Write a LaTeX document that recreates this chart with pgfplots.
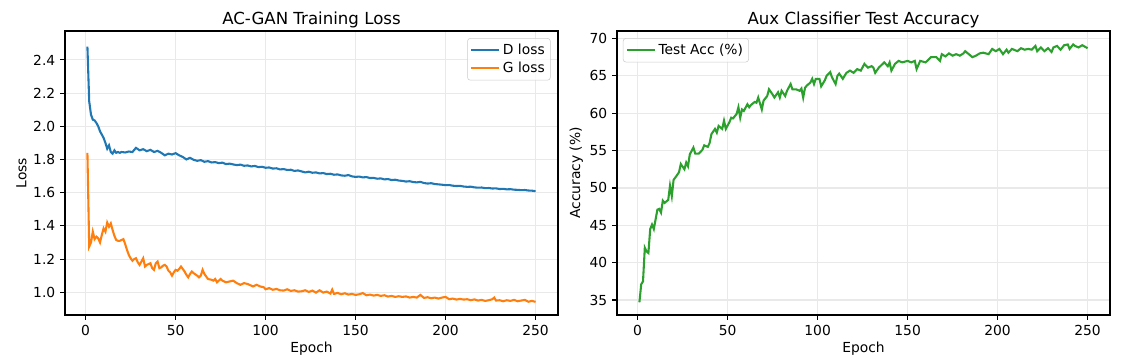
\documentclass[border=0pt]{standalone}
\usepackage{pgfplots}
\pgfplotsset{compat=1.18}
\usepackage{fontspec}
\setmainfont{DejaVu Sans}
\definecolor{tabblue}{HTML}{1F77B4}
\definecolor{taborange}{HTML}{FF7F0E}
\definecolor{tabgreen}{HTML}{2CA02C}
\definecolor{gridc}{HTML}{E9E9E9}
\pgfplotsset{
  mystyle/.style={
    scale only axis, width=354.96bp, height=204.48bp,
    axis line style={line width=0.8bp},
    tick pos=left, tick align=outside,
    major tick length=3.5bp,
    every tick/.style={black, line width=0.8bp},
    grid=major, major grid style={gridc, line width=0.8bp},
    xmin=-11.45, xmax=262.45,
    xtick={0,50,100,150,200,250},
    tick label style={font=\fontsize{10}{12}\selectfont},
    label style={font=\fontsize{10}{12}\selectfont},
    title style={font=\fontsize{12}{14}\selectfont, at={(0.5,1)}, anchor=south, yshift=-7.5bp},
    /pgf/number format/assume math mode=true,
    legend style={font=\fontsize{10}{12}\selectfont, draw=gray!40, rounded corners=2bp, fill=white, fill opacity=0.8, text opacity=1, inner sep=2bp, row sep=0bp},
    legend cell align=left,
    legend image code/.code={\draw[#1] (0bp,0bp) -- (20bp,0bp);},
    xlabel={Epoch},
    xlabel style={yshift=2bp},
  }
}
\begin{document}
\begin{tikzpicture}
\useasboundingbox (0,0) rectangle (819.36bp,262.08bp);
\begin{axis}[mystyle, at={(46.8bp,35.28bp)}, anchor=south west,
  ymin=0.863, ymax=2.574,
  ytick={1.0,1.2,1.4,1.6,1.8,2.0,2.2,2.4},
  yticklabel style={/pgf/number format/.cd, fixed, fixed zerofill, precision=1},
  ylabel={Loss}, ylabel style={yshift=-2bp},
  title={AC-GAN Training Loss},
  legend style={at={(0.985,0.975)}, anchor=north east},
]
\addplot[tabblue, line width=1.5bp] coordinates {
(1,2.48)(2,2.15)(3,2.07)(4,2.04)(5,2.035)(6,2.02)(7,2.00)(8,1.97)(9,1.95)(10,1.93)
(11,1.90)(12,1.865)(13,1.885)(14,1.845)(15,1.835)(16,1.855)(17,1.84)(18,1.845)(19,1.84)(20,1.845)
(22,1.842)(24,1.848)(26,1.845)(28,1.870)(30,1.855)(32,1.862)(34,1.850)(36,1.858)(38,1.845)(40,1.852)
(42,1.840)(44,1.825)(46,1.835)(48,1.830)(50,1.838)(52,1.825)(54,1.815)(56,1.800)(58,1.810)(60,1.798)
(62,1.792)(64,1.796)(66,1.786)(68,1.790)(70,1.782)(72,1.784)(74,1.778)(76,1.781)(78,1.772)(80,1.775)
(82,1.770)(84,1.766)(86,1.769)(88,1.762)(90,1.764)(92,1.758)(94,1.761)(96,1.754)(98,1.756)(100,1.750)
(102,1.752)(104,1.745)(106,1.747)(108,1.740)(110,1.742)(112,1.737)(114,1.738)(116,1.731)(118,1.734)(120,1.728)
(122,1.722)(124,1.726)(126,1.720)(128,1.722)(130,1.716)(132,1.718)(134,1.712)(136,1.714)(138,1.708)(140,1.710)
(142,1.704)(144,1.702)(146,1.706)(148,1.698)(150,1.695)(152,1.697)(154,1.692)(156,1.694)(158,1.688)(160,1.689)
(162,1.684)(164,1.686)(166,1.680)(168,1.682)(170,1.676)(172,1.678)(174,1.673)(176,1.671)(178,1.667)(180,1.669)
(182,1.664)(184,1.662)(186,1.665)(188,1.658)(190,1.655)(192,1.657)(194,1.652)(196,1.650)(198,1.648)(200,1.645)
(202,1.646)(204,1.642)(206,1.640)(208,1.641)(210,1.637)(212,1.635)(214,1.636)(216,1.632)(218,1.630)(220,1.631)
(222,1.627)(224,1.628)(226,1.625)(228,1.626)(230,1.622)(232,1.623)(234,1.620)(236,1.621)(238,1.618)(240,1.617)
(242,1.615)(244,1.616)(246,1.613)(248,1.612)(250,1.609)
};
\addlegendentry{D loss}
\addplot[taborange, line width=1.5bp] coordinates {
(1,1.84)(2,1.275)(3,1.30)(4,1.365)(5,1.32)(6,1.335)(7,1.325)(8,1.30)(9,1.345)(10,1.385)
(11,1.365)(12,1.42)(13,1.395)(14,1.415)(15,1.375)(16,1.34)(17,1.315)(18,1.31)(19,1.31)(20,1.315)
(21,1.32)(22,1.29)(23,1.255)(24,1.225)(25,1.205)(26,1.19)(27,1.20)(28,1.205)(29,1.18)(30,1.165)
(31,1.185)(32,1.205)(33,1.155)(34,1.165)(35,1.17)(36,1.175)(37,1.145)(38,1.135)(39,1.175)(40,1.185)
(41,1.145)(42,1.15)(43,1.16)(44,1.165)(45,1.155)(46,1.13)(47,1.12)(48,1.10)(49,1.12)(50,1.135)
(51,1.13)(52,1.14)(53,1.155)(54,1.14)(55,1.125)(56,1.105)(57,1.09)(58,1.11)(59,1.125)(60,1.115)
(62,1.10)(63,1.09)(64,1.10)(65,1.135)(66,1.11)(67,1.095)(68,1.08)(70,1.075)(71,1.07)(72,1.08)
(73,1.06)(75,1.08)(76,1.07)(78,1.06)(80,1.065)(82,1.07)(84,1.055)(86,1.045)(88,1.055)(90,1.05)
(92,1.04)(93,1.035)(95,1.045)(97,1.035)(99,1.03)(100,1.018)(102,1.025)(104,1.015)(106,1.02)(108,1.012)
(110,1.01)(112,1.018)(114,1.008)(116,1.012)(118,1.004)(120,1.006)(122,1.012)(124,1.002)(126,1.010)(128,0.998)
(130,1.012)(132,0.998)(134,1.004)(136,0.992)(137,1.016)(138,0.99)(140,0.996)(142,0.988)(144,0.994)(146,0.986)
(148,0.99)(150,0.984)(152,0.988)(154,0.995)(156,0.982)(158,0.986)(160,0.98)(162,0.984)(164,0.978)(166,0.982)
(168,0.974)(170,0.978)(172,0.972)(174,0.976)(176,0.972)(178,0.975)(180,0.968)(182,0.972)(184,0.968)(186,0.984)
(188,0.966)(190,0.97)(192,0.964)(194,0.968)(196,0.962)(198,0.968)(200,0.972)(202,0.958)(204,0.962)(206,0.956)
(208,0.96)(210,0.956)(212,0.958)(214,0.952)(216,0.957)(218,0.95)(220,0.954)(222,0.948)(224,0.952)(226,0.958)
(227,0.968)(228,0.95)(230,0.952)(232,0.946)(234,0.952)(236,0.948)(238,0.954)(240,0.946)(242,0.95)(244,0.954)
(246,0.943)(248,0.948)(250,0.942)
};
\addlegendentry{G loss}
\end{axis}
\begin{axis}[mystyle, at={(444.24bp,35.28bp)}, anchor=south west,
  ymin=33.0, ymax=71.0,
  ytick={35,40,45,50,55,60,65,70},
  ylabel={Accuracy (\%)}, ylabel style={yshift=-2bp},
  title={Aux Classifier Test Accuracy},
  legend style={at={(0.012,0.975)}, anchor=north west},
]
\addplot[tabgreen, line width=1.5bp] coordinates {
(1,34.7)(2,37.1)(3,37.5)(4,42.0)(5,41.5)(6,41.3)(7,44.5)(8,45.1)(9,44.5)(10,45.8)
(11,47.1)(12,47.2)(13,46.7)(14,48.3)(15,48.0)(16,48.2)(17,48.4)(18,50.3)(19,48.9)(20,51.1)
(21,51.4)(23,52.1)(24,53.2)(26,52.5)(27,53.4)(28,52.9)(29,54.5)(31,55.4)(32,54.6)(34,54.6)
(36,55.1)(37,55.7)(39,55.5)(40,56.0)(41,57.2)(43,57.9)(44,57.4)(45,58.3)(47,57.9)(48,59.0)
(49,57.9)(51,58.8)(52,59.4)(53,59.3)(55,59.9)(56,60.8)(57,59.4)(58,60.5)(59,60.3)(61,61.2)
(62,60.8)(63,61.1)(65,61.5)(66,61.4)(67,62.1)(69,60.5)(70,61.7)(72,62.3)(73,63.2)(75,62.5)
(76,62.1)(78,62.8)(79,62.1)(80,63.0)(82,62.3)(83,63.0)(85,63.9)(86,63.2)(88,63.2)(90,63.0)
(91,63.3)(92,62.1)(93,63.4)(94,63.7)(96,64.1)(97,64.6)(98,63.9)(99,64.6)(101,64.6)(102,63.6)
(104,64.4)(105,65.0)(107,65.5)(108,64.8)(110,63.9)(111,65.0)(112,65.3)(114,64.6)(116,65.4)(118,65.7)
(120,65.4)(122,65.9)(124,65.7)(126,66.6)(128,66.1)(130,66.3)(131,66.1)(132,65.4)(134,66.1)(137,66.8)
(139,66.3)(140,66.8)(141,65.7)(143,66.6)(145,67.0)(147,66.8)(150,67.0)(152,66.8)(154,67.0)(155,65.9)
(157,67.0)(160,66.8)(163,67.5)(166,67.5)(168,67.0)(169,67.9)(171,67.6)(173,68.0)(175,67.7)(177,67.9)
(179,67.7)(181,68.0)(182,68.3)(184,67.9)(186,67.5)(188,67.7)(190,68.0)(192,68.1)(195,67.9)(197,68.6)
(199,68.3)(201,68.6)(203,67.9)(205,68.5)(206,68.1)(208,68.6)(211,68.3)(213,68.7)(215,68.5)(217,68.6)
(219,68.5)(221,69.0)(222,68.3)(224,68.8)(226,68.3)(228,68.7)(230,68.2)(231,68.8)(233,69.0)(235,68.5)
(237,69.1)(239,69.2)(240,68.6)(242,69.2)(243,69.0)(245,68.8)(247,69.1)(250,68.7)
};
\addlegendentry{Test Acc (\%)}
\end{axis}
\end{tikzpicture}
\end{document}
